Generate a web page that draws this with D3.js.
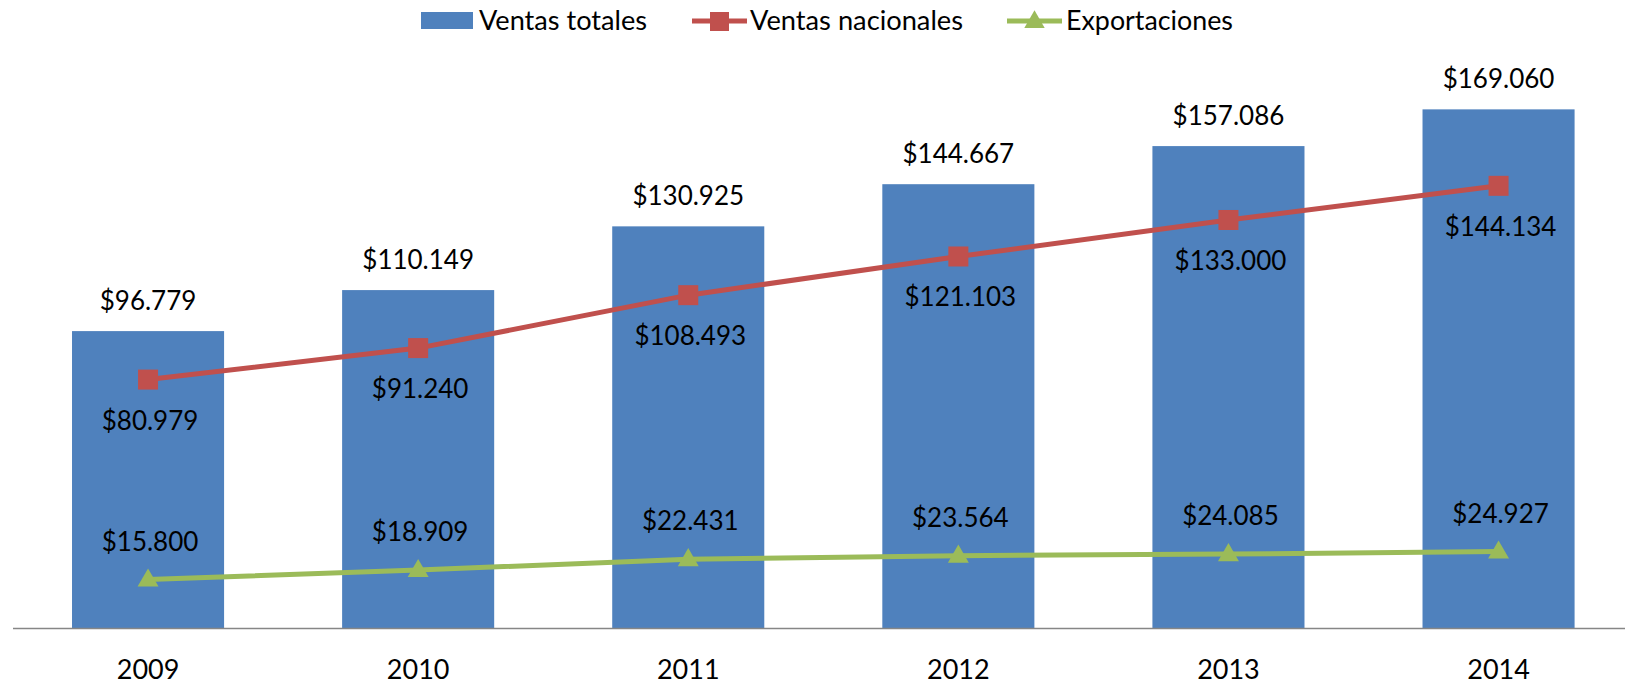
<!DOCTYPE html>
<html>
<head>
<meta charset="utf-8">
<script src="https://cdn.jsdelivr.net/npm/d3@7"></script>
<style>
  body { margin: 0; background: #fff; }
  text { font-family: Lato, "Open Sans", sans-serif; fill: #000; }
</style>
</head>
<body>
<div id="chart"></div>
<script>
// data
const years = ["2009", "2010", "2011", "2012", "2013", "2014"];
const ventasTotales = [96.779, 110.149, 130.925, 144.667, 157.086, 169.060];
const ventasNacionales = [80.979, 91.240, 108.493, 121.103, 133.000, 144.134];
const exportaciones = [15.800, 18.909, 22.431, 23.564, 24.085, 24.927];
const seriesNames = ["Ventas totales", "Ventas nacionales", "Exportaciones"];

const width = 1625, height = 684;
const blue = "#4F81BD", red = "#C0504D", green = "#9BBB59";

const fmt = v => "$" + v.toFixed(3);

const svg = d3.select("#chart")
  .append("svg")
  .attr("width", width)
  .attr("height", height);

//scales
const xScale = d3.scaleBand()
  .domain(years)
  .range([13, 1633.6])
  .paddingInner(0.437)
  .paddingOuter(0.2185);
const yScale = d3.scaleLinear()
  .domain([0, 180])
  .range([628, 75.8]);
const cx = d => xScale(d) + xScale.bandwidth() / 2;

//bars
svg.selectAll("rect.bar")
  .data(years)
  .join("rect")
    .attr("class", "bar")
    .attr("x", d => xScale(d))
    .attr("y", (d, i) => yScale(ventasTotales[i]))
    .attr("width", xScale.bandwidth())
    .attr("height", (d, i) => yScale(0) - yScale(ventasTotales[i]))
    .attr("fill", blue);

//x axis line + year labels
svg.append("line")
  .attr("x1", 13).attr("x2", width)
  .attr("y1", yScale(0) + 0.5).attr("y2", yScale(0) + 0.5)
  .attr("stroke", "#868686")
  .attr("stroke-width", 1.5);

svg.selectAll("text.year")
  .data(years)
  .join("text")
    .attr("class", "year")
    .attr("x", d => cx(d))
    .attr("y", 679)
    .attr("text-anchor", "middle")
    .attr("font-size", 27)
    .text(d => d);

//lines
const line = values => d3.line()
  .x((d, i) => cx(years[i]))
  .y(d => yScale(d))(values);

svg.append("path")
  .attr("d", line(ventasNacionales))
  .attr("fill", "none")
  .attr("stroke", red)
  .attr("stroke-width", 5);

svg.append("path")
  .attr("d", line(exportaciones))
  .attr("fill", "none")
  .attr("stroke", green)
  .attr("stroke-width", 5);

//markers
svg.selectAll("rect.sq")
  .data(ventasNacionales)
  .join("rect")
    .attr("class", "sq")
    .attr("x", (d, i) => cx(years[i]) - 10)
    .attr("y", d => yScale(d) - 10)
    .attr("width", 20)
    .attr("height", 20)
    .attr("fill", red);

const tri = d3.symbol().type(d3.symbolTriangle).size(190);
svg.selectAll("path.tri")
  .data(exportaciones)
  .join("path")
    .attr("class", "tri")
    .attr("d", tri)
    .attr("transform", (d, i) => `translate(${cx(years[i])}, ${yScale(d) + 1})`)
    .attr("fill", green);

//data labels
svg.selectAll("text.lblTot")
  .data(ventasTotales)
  .join("text")
    .attr("class", "lblTot")
    .attr("x", (d, i) => cx(years[i]))
    .attr("y", d => yScale(d) - 21)
    .attr("text-anchor", "middle")
    .attr("font-size", 26)
    .text(fmt);

svg.selectAll("text.lblNac")
  .data(ventasNacionales)
  .join("text")
    .attr("class", "lblNac")
    .attr("x", (d, i) => cx(years[i]) + 2)
    .attr("y", d => yScale(d) + 50)
    .attr("text-anchor", "middle")
    .attr("font-size", 26)
    .text(fmt);

svg.selectAll("text.lblExp")
  .data(exportaciones)
  .join("text")
    .attr("class", "lblExp")
    .attr("x", (d, i) => cx(years[i]) + 2)
    .attr("y", d => yScale(d) - 29)
    .attr("text-anchor", "middle")
    .attr("font-size", 26)
    .text(fmt);

//legend
const legend = svg.append("g");
legend.append("rect")
  .attr("x", 421).attr("y", 12).attr("width", 52).attr("height", 17)
  .attr("fill", blue);
legend.append("line")
  .attr("x1", 692).attr("x2", 747).attr("y1", 21).attr("y2", 21)
  .attr("stroke", red).attr("stroke-width", 5);
legend.append("rect")
  .attr("x", 710).attr("y", 12).attr("width", 19).attr("height", 19)
  .attr("fill", red);
legend.append("line")
  .attr("x1", 1007).attr("x2", 1062).attr("y1", 21).attr("y2", 21)
  .attr("stroke", green).attr("stroke-width", 5);
legend.append("path")
  .attr("d", d3.symbol().type(d3.symbolTriangle).size(180))
  .attr("transform", "translate(1034.5, 22)")
  .attr("fill", green);

const legendPos = [[479, 168], [750, 213], [1066, 167]];
legend.selectAll("text")
  .data(seriesNames)
  .join("text")
    .attr("x", (d, i) => legendPos[i][0])
    .attr("y", 30)
    .attr("font-size", 26)
    .attr("textLength", (d, i) => legendPos[i][1])
    .attr("lengthAdjust", "spacingAndGlyphs")
    .text(d => d);
</script>
</body>
</html>
